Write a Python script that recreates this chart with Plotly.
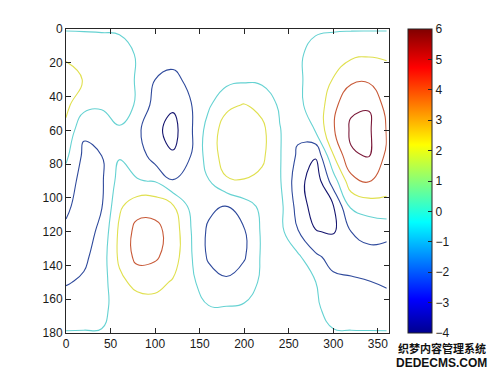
import plotly.graph_objects as go

# ---- data (grid nodes of the contoured field) ----
x_vals = [0, 20, 40, 60, 80, 100, 120, 140, 160, 180, 200, 220, 240, 260, 280, 300, 320, 340, 360]
y_vals = [0, 15, 30, 45, 60, 75, 90, 105, 120, 135, 150, 165, 180]

row_y0   = [-0.15, -0.15, -0.15, -0.15, -0.15, -0.15, -0.15, -0.15, -0.15, -0.15, -0.15, -0.15, -0.15, -0.15, -0.15, -0.15, -0.15, -0.15, -0.15]
row_y15  = [1.8, 1.3, 0.9, 0.5, -0.1, -1.2, -1.4, -1.2, -0.8, -0.6, -0.5, -0.5, -0.6, -0.2, 0.4, 1.0, 1.6, 1.8, 1.8]
row_y30  = [2.5, 1.95, 1.0, 0.5, -0.1, -2.0, -2.4, -1.6, -0.9, -0.6, -0.3, -0.4, -0.6, -0.25, 0.6, 2.1, 3.6, 3.7, 2.6]
row_y45  = [2.4, 0.7, 0.35, 0.4, -0.1, -2.8, -3.7, -2.1, -0.3, 1.6, 2.1, 1.4, -0.3, -0.25, 0.5, 3.4, 5.7, 5.9, 3.3]
row_y60  = [1.6, -1.7, -1.5, -0.1, -1.6, -3.5, -4.7, -2.3, 0.9, 2.9, 3.2, 2.5, 0.1, -1.6, 0.1, 3.8, 6.3, 6.3, 3.9]
row_y75  = [0.4, -2.4, -2.0, -0.15, -0.8, -3.0, -3.8, -2.0, 0.9, 2.9, 3.1, 2.4, 0.15, -2.3, -3.8, 1.9, 5.8, 6.1, 3.6]
row_y90  = [-0.9, -2.8, -2.3, 0.8, 0.1, -0.1, -1.9, -1.4, -0.1, 1.8, 1.9, 1.5, 0.2, -3.1, -5.3, -1.0, 3.3, 4.1, 2.6]
row_y105 = [-1.6, -3.0, -2.1, 1.7, 3.2, 3.3, 2.2, -0.5, -1.5, -2.1, -0.8, 0.4, 0.6, -2.7, -5.0, -4.1, 0.3, 1.0, 1.6]
row_y120 = [-2.4, -2.9, -1.5, 2.4, 4.7, 4.6, 3.2, 0.1, -2.4, -3.0, -2.2, 0.3, 0.6, -1.9, -3.9, -4.2, -2.0, -1.5, -1.6]
row_y135 = [-2.7, -2.4, -1.0, 2.4, 4.6, 4.3, 3.0, 0.2, -2.3, -3.0, -2.2, 0.3, 0.5, 0.4, -1.6, -2.7, -2.6, -2.5, -2.6]
row_y150 = [-2.15, -1.7, -0.8, 1.5, 2.6, 2.6, 1.8, 0.4, -1.0, -1.7, -0.9, 0.3, 0.5, 0.5, 0.05, -1.5, -1.8, -1.95, -2.3]
row_y165 = [-1.0, -0.8, -0.5, 0.8, 1.0, 1.2, 0.9, 0.5, 0.1, 0.1, 0.2, 0.4, 0.45, 0.5, 0.2, -0.5, -0.8, -0.9, -1.0]
row_y180 = [0.1, 0.1, 0.1, 0.1, 0.1, 0.1, 0.1, 0.1, 0.1, 0.1, 0.1, 0.1, 0.1, 0.1, 0.1, 0.1, 0.1, 0.1, 0.1]

level_start, level_end, level_step = -4, 6, 2
x_ticks = [0, 50, 100, 150, 200, 250, 300, 350]
y_ticks = [0, 20, 40, 60, 80, 100, 120, 140, 160, 180]
cbar_ticks = [-4, -3, -2, -1, 0, 1, 2, 3, 4, 5, 6]

z_grid = [row_y0, row_y15, row_y30, row_y45, row_y60, row_y75, row_y90,
          row_y105, row_y120, row_y135, row_y150, row_y165, row_y180]

# ---- styling ----
line_scale = [[0.0, "#14146e"], [0.2, "#2f4a9c"], [0.4, "#66d2d2"],
              [0.6, "#e0e050"], [0.8, "#c85a38"], [1.0, "#7a1838"]]
jet_scale = [[0.0, "rgb(0,0,143)"], [0.111, "rgb(0,0,255)"], [0.365, "rgb(0,255,255)"],
             [0.619, "rgb(255,255,0)"], [0.873, "rgb(255,0,0)"], [1.0, "rgb(128,0,0)"]]
font_main = dict(family="Liberation Sans, Arial, sans-serif", size=12, color="#1a1a1a")
axis_col = "#262626"

fig = go.Figure()
fig.add_trace(go.Contour(
    x=x_vals, y=y_vals, z=z_grid,
    zmin=level_start, zmax=level_end, zauto=False,
    colorscale=line_scale, showscale=False,
    contours=dict(start=level_start, end=level_end, size=level_step, coloring="lines"),
    line=dict(width=1.1, smoothing=1.3),
    hoverinfo="skip",
))
# continuous colour bar (jet) like the reference
fig.add_trace(go.Scatter(
    x=[x_vals[0], x_vals[0]], y=[y_vals[0], y_vals[0]], mode="markers",
    marker=dict(size=0.1, opacity=0, color=[level_start, level_end],
                colorscale=jet_scale, cmin=level_start, cmax=level_end, showscale=True,
                colorbar=dict(x=1.059, xanchor="left", y=0.5, yanchor="middle",
                              len=1.0, lenmode="fraction", thickness=24, thicknessmode="pixels",
                              outlinewidth=1, outlinecolor=axis_col,
                              tickvals=cbar_ticks, ticks="inside", ticklen=4, tickcolor=axis_col,
                              tickfont=font_main, xpad=0, ypad=0)),
    hoverinfo="skip", showlegend=False,
))

fig.update_xaxes(range=[0, 362.5], tickvals=x_ticks, ticks="inside", ticklen=5,
                 tickcolor=axis_col, showline=True, linecolor=axis_col, linewidth=1,
                 mirror="ticks", showgrid=False, zeroline=False, tickfont=font_main)
fig.update_yaxes(range=[180, 0], tickvals=y_ticks, ticks="inside", ticklen=5,
                 tickcolor=axis_col, showline=True, linecolor=axis_col, linewidth=1,
                 mirror="ticks", showgrid=False, zeroline=False, tickfont=font_main)

fig.update_layout(
    width=500, height=375,
    margin=dict(l=66, r=111, t=29, b=42),
    paper_bgcolor="white", plot_bgcolor="white",
    showlegend=False, font=font_main,
    annotations=[
        dict(text="<b>织梦内容管理系统</b>", x=1.163, y=-0.0495, xref="paper", yref="paper",
             xanchor="center", yanchor="middle", showarrow=False,
             font=dict(family="Noto Sans CJK SC", size=11, color="#111")),
        dict(text="<b>DEDECMS.COM</b>", x=1.163, y=-0.1, xref="paper", yref="paper",
             xanchor="center", yanchor="middle", showarrow=False,
             font=dict(family="Liberation Sans, Arial", size=12, color="#111")),
    ],
)

fig.write_html("out.html", config={"displayModeBar": False},
               post_script="document.body.style.margin='0';")
